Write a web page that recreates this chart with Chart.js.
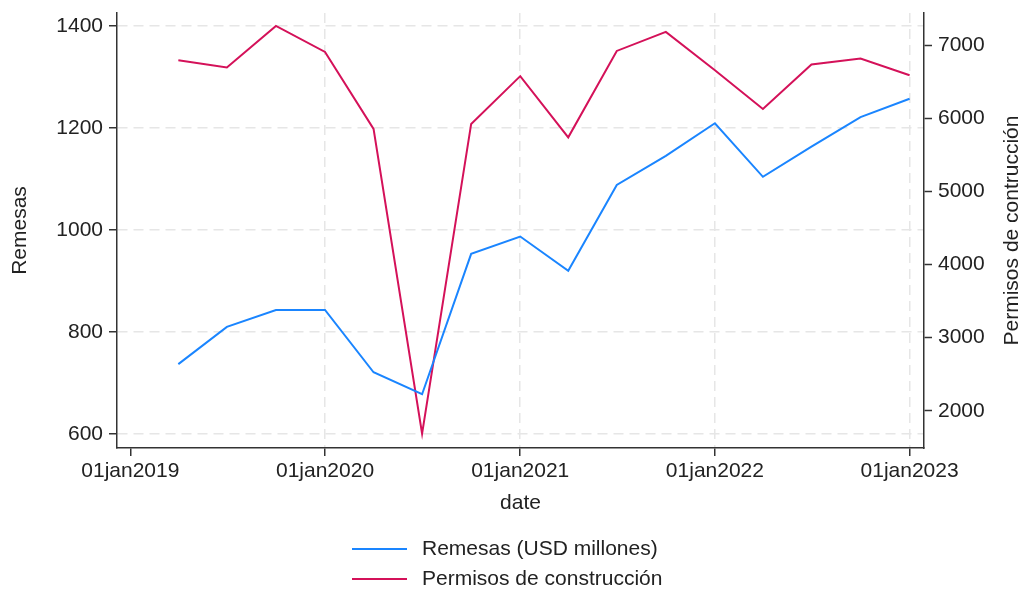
<!DOCTYPE html>
<html>
<head>
<meta charset="utf-8">
<script src="https://cdn.jsdelivr.net/npm/chart.js@4.4.1/dist/chart.umd.min.js"></script>
<style>
  body { margin: 0; background: #fff; }
  #wrap { position: relative; width: 1026px; height: 590px; }
  #legend { position: absolute; left: 352px; top: 533px; font-family: "Liberation Sans", Arial, sans-serif; font-size: 21px; color: #222; }
  #legend .row { height: 30px; line-height: 30px; white-space: nowrap; }
  #legend .swatch { display: inline-block; width: 55px; height: 2px; vertical-align: middle; margin-right: 15px; }
</style>
</head>
<body>
<div id="wrap">
  <canvas id="myChart" width="1026" height="590"></canvas>
  <div id="legend"></div>
</div>
<script>
// quarterly observations
var dates = ['2019-04-01','2019-07-01','2019-10-01','2020-01-01','2020-04-01','2020-07-01','2020-10-01','2021-01-01',
             '2021-04-01','2021-07-01','2021-10-01','2022-01-01','2022-04-01','2022-07-01','2022-10-01','2023-01-01'];
var remesas = [737, 810, 843, 843, 721, 678, 953, 987, 920, 1088, 1145, 1209, 1104, 1163, 1221, 1257];
var permisos = [6795, 6695, 7264, 6909, 5855, 1686, 5923, 6577, 5740, 6922, 7182, 6658, 6128, 6736, 6818, 6590];

var xTickDates = ['2019-01-01','2020-01-01','2021-01-01','2022-01-01','2023-01-01'];
var xTickLabels = ['01jan2019','01jan2020','01jan2021','01jan2022','01jan2023'];
var leftTicks = [600, 800, 1000, 1200, 1400];
var rightTicks = [2000, 3000, 4000, 5000, 6000, 7000];

var FONT = '"Liberation Sans", Arial, sans-serif';
var BLUE = '#1a85ff';
var RED = '#d41159';

// days since 01jan2019, like a Stata %td date
function dayNum(s){
  var p = s.split('-');
  return (Date.UTC(+p[0], +p[1]-1, +p[2]) - Date.UTC(2019,0,1)) / 86400000;
}

function toPoints(vals){
  return vals.map(function(v, i){ return {x: dayNum(dates[i]), y: v}; });
}

function fixTicks(list){
  return function(scale){
    scale.ticks = list.map(function(v){ return {value: v}; });
  };
}

function plain(v){ return String(v); }

// right axis title reads bottom to top, like the left one
var rightTitle = {
  id: 'rightTitle',
  afterDraw: function(chart){
    var ctx = chart.ctx;
    var area = chart.chartArea;
    ctx.save();
    ctx.translate(1012, (area.top + area.bottom)/2);
    ctx.rotate(-Math.PI/2);
    ctx.font = '21px ' + FONT;
    ctx.fillStyle = '#222';
    ctx.textAlign = 'center';
    ctx.textBaseline = 'middle';
    ctx.fillText('Permisos de contrucción', 0, 0);
    ctx.restore();
  }
};

function drawChart(){
  var ctx = document.getElementById('myChart').getContext('2d');
  var xTickVals = xTickDates.map(dayNum);
  var gridCol = '#e6e6e6';

  var chart = new Chart(ctx, {
    type: 'line',
    data: {
      datasets: [{
        label: 'Remesas (USD millones)',
        data: toPoints(remesas),
        yAxisID: 'y',
        borderColor: BLUE,
        backgroundColor: BLUE,
        borderWidth: 2,
        pointRadius: 0,
        tension: 0
      },
      {
        label: 'Permisos de construcción',
        data: toPoints(permisos),
        yAxisID: 'y1',
        borderColor: RED,
        backgroundColor: RED,
        borderWidth: 2,
        pointRadius: 0,
        tension: 0
      }]
    },
    options: {
      responsive: false,
      animation: false,
      layout: { padding: { left: 0, right: 0, top: 13, bottom: 70 } },
      plugins: { legend: { display: false }, tooltip: { enabled: false } },
      scales: {
        x: {
          type: 'linear',
          min: -25,
          max: 1488,
          afterBuildTicks: fixTicks(xTickVals),
          afterFit: function(s){ s.height = 72; s.paddingLeft = 0; s.paddingRight = 0; },
          ticks: {
            font: { family: FONT, size: 21 },
            color: '#222',
            padding: 3,
            maxRotation: 0,
            callback: function(v){ return xTickLabels[xTickVals.indexOf(v)]; }
          },
          grid: {
            color: function(c){ return c.tick && c.tick.value === 0 ? 'rgba(0,0,0,0)' : gridCol; },
            lineWidth: 1.5,
            tickColor: '#333',
            tickLength: 8,
            tickWidth: 1.5
          },
          border: { display: true, color: '#333', width: 1.5, dash: [10, 6] },
          title: { display: true, text: 'date', font: { family: FONT, size: 21 }, color: '#222', padding: { top: 4, bottom: 4 } }
        },
        y: {
          position: 'left',
          min: 572.6,
          max: 1425,
          afterBuildTicks: fixTicks(leftTicks),
          afterFit: function(s){ s.width = 117; s.paddingTop = 0; s.paddingBottom = 0; },
          ticks: { font: { family: FONT, size: 21 }, color: '#222', padding: 6, callback: plain },
          grid: {
            color: gridCol,
            lineWidth: 1.5,
            tickColor: '#333',
            tickLength: 8,
            tickWidth: 1.5
          },
          border: { display: true, color: '#333', width: 1.5, dash: [10, 6] },
          title: { display: true, text: 'Remesas', font: { family: FONT, size: 21 }, color: '#222', padding: { top: 8, bottom: 0 } }
        },
        y1: {
          position: 'right',
          min: 1490,
          max: 7441,
          afterBuildTicks: fixTicks(rightTicks),
          afterFit: function(s){ s.width = 102; s.paddingTop = 0; s.paddingBottom = 0; },
          ticks: { font: { family: FONT, size: 21 }, color: '#222', padding: 6, callback: plain },
          grid: {
            drawOnChartArea: false,
            tickColor: '#333',
            tickLength: 8,
            tickWidth: 1.5
          },
          border: { display: true, color: '#333', width: 1.5 }
        }
      }
    },
    plugins: [rightTitle]
  });

  // legend stacked in two rows below the plot
  var box = document.getElementById('legend');
  chart.data.datasets.forEach(function(ds){
    var row = document.createElement('div');
    row.className = 'row';
    row.innerHTML = '<span class="swatch" style="background:' + ds.borderColor + '"></span>' + ds.label;
    box.appendChild(row);
  });
}

drawChart();
</script>
</body>
</html>
